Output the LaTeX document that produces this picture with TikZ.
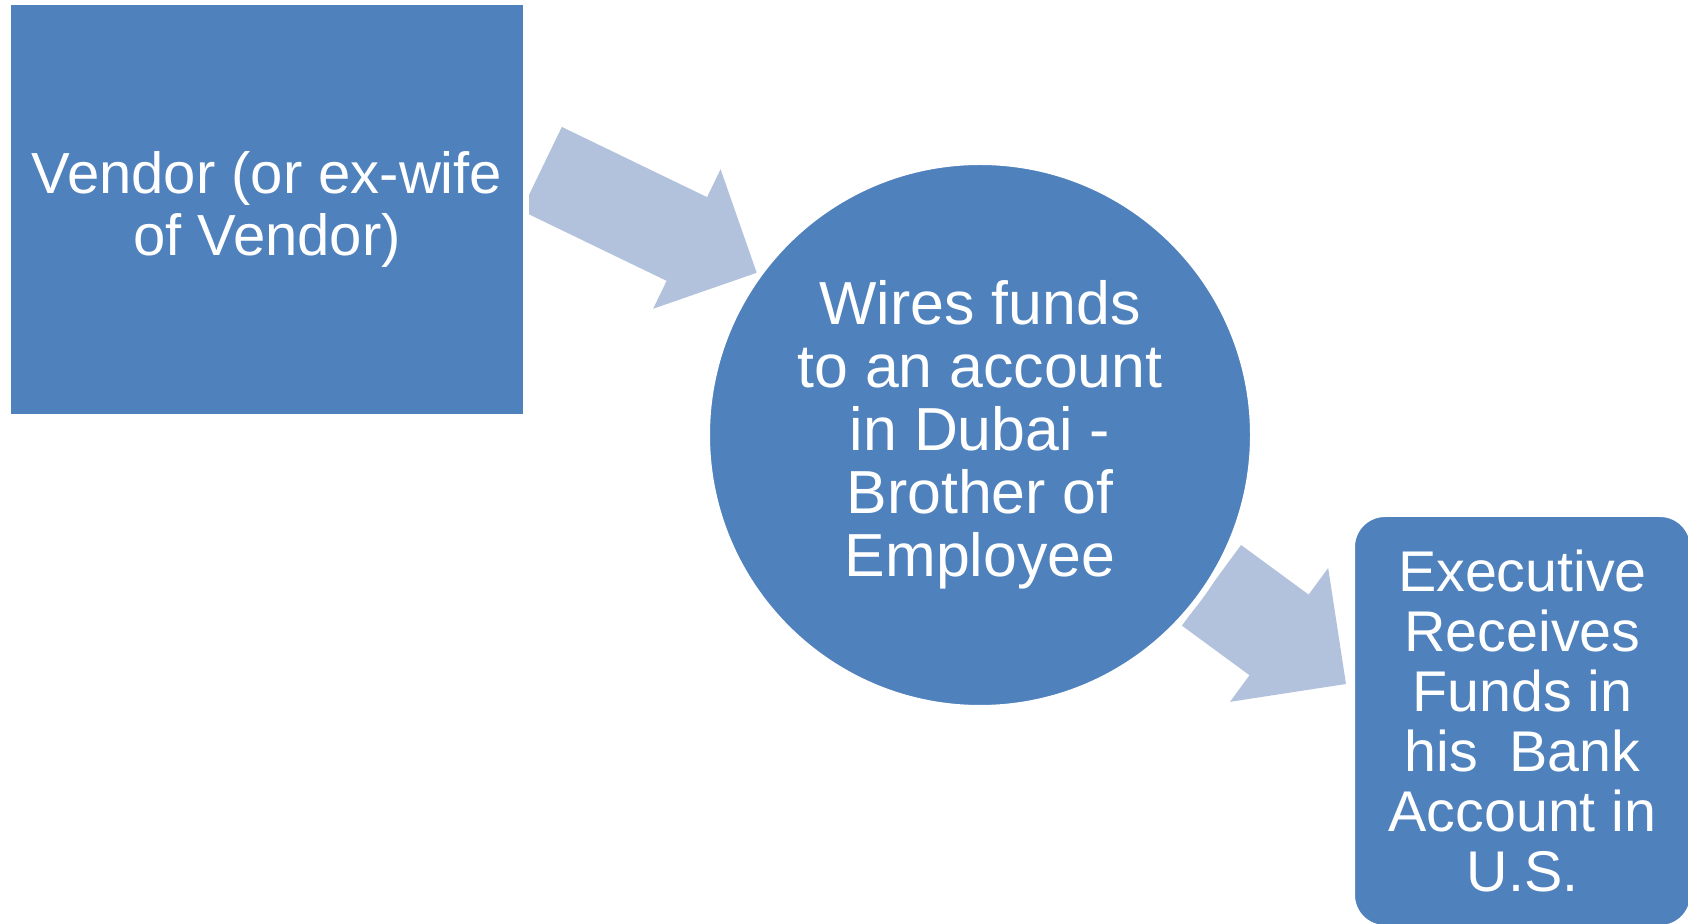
\documentclass[tikz,border=0pt]{standalone}
\usepackage{fontspec}
\setmainfont{Liberation Sans}
\usetikzlibrary{calc,backgrounds}

\definecolor{stageblue}{RGB}{79,129,189}
\definecolor{flowblue}{RGB}{179,194,220}

% block arrow: tail, tip, half body width, half head width, head length
\newcommand{\blockarrow}[5]{%
    \coordinate (hb) at ($(#2)!#5!(#1)$);
    \fill[flowblue] ($(#1)!#3!90:(#2)$) -- ($(hb)!#3!90:(#2)$) -- ($(hb)!#4!90:(#2)$) -- (#2)
        -- ($(hb)!#4!-90:(#2)$) -- ($(hb)!#3!-90:(#2)$) -- ($(#1)!#3!-90:(#2)$) -- cycle;
}

\begin{document}
\begin{tikzpicture}[x=0.5pt, y=-0.5pt,
    stage/.style={fill=stageblue, draw=white, line width=3pt, text=white, align=center, inner sep=0pt}]
    \useasboundingbox (0,0) rectangle (1688,924);

    % nodes
    \node (vendor) [stage, rectangle, minimum width=259pt, minimum height=207.5pt,
        font=\fontsize{29}{31}\selectfont] at (267,209.5) {Vendor (or ex-wife\\of Vendor)};
    \node (wire) [stage, circle, minimum size=273pt,
        font=\fontsize{30.4}{31.5}\selectfont] at (980,435)
        {Wires funds\\to an account\\in Dubai -\\Brother of\\Employee};
    \node (exec) [stage, rectangle, rounded corners=16.5pt, minimum width=170.5pt, minimum height=207pt,
        font=\fontsize{28.7}{30}\selectfont] at (1522.5,721)
        {Executive\\Receives\\Funds in\\his\ \ Bank\\Account in\\U.S.};

    % arrows
    \begin{pgfonlayer}{background}
        \coordinate (a1) at ($(vendor.east)+(12.6,-40.7)$);
        \blockarrow{a1}{wire.144.7}{23.25pt}{38.75pt}{38.8pt}
        \coordinate (a2) at ($(exec.west)+(-3,-37)$);
        \blockarrow{wire.-33}{a2}{25pt}{41.5pt}{41.5pt}
    \end{pgfonlayer}
\end{tikzpicture}
\end{document}
